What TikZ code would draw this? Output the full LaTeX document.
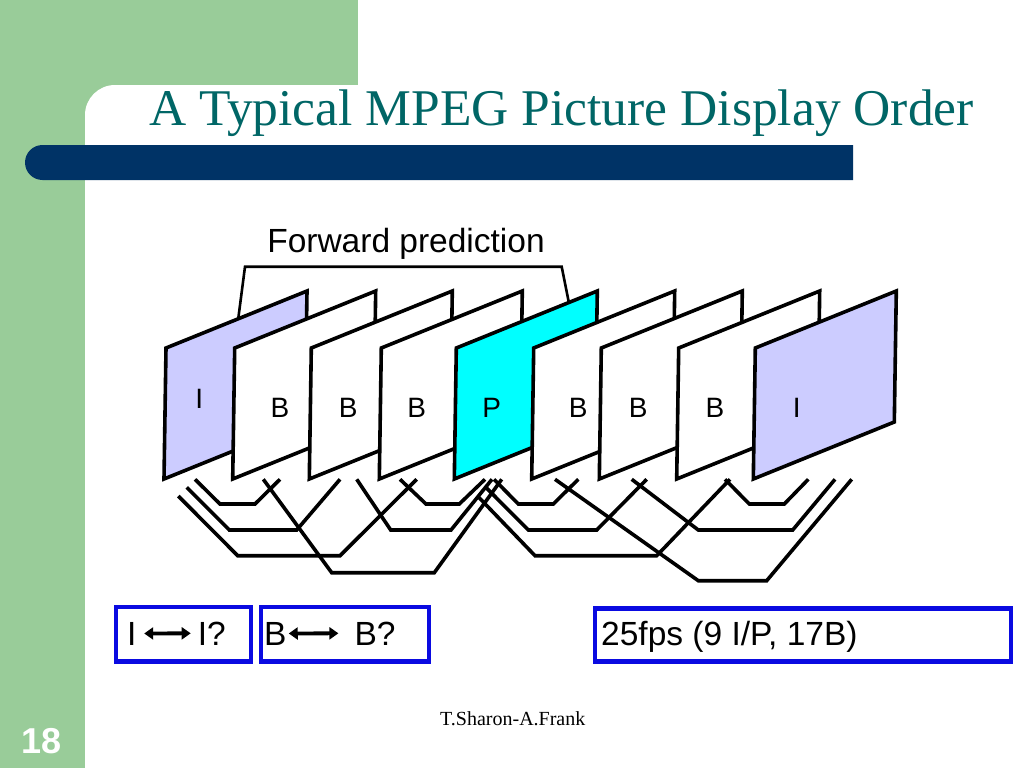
\documentclass[tikz,border=0pt]{standalone}
\usepackage{fontspec}
\setmainfont{Liberation Serif}
\setsansfont{Liberation Sans}
\usetikzlibrary{arrows.meta}
\definecolor{greenbg}{HTML}{99CC99}
\definecolor{barblue}{HTML}{003366}
\definecolor{titleteal}{HTML}{006666}
\definecolor{lavender}{HTML}{CCCCFF}
\definecolor{cyanfill}{HTML}{00FFFF}
\definecolor{boxblue}{RGB}{10,10,225}
\tikzset{
  framestyle/.style={draw=black, line width=3.6pt, line join=miter},
  conn/.style={draw=black, line width=3.6pt, line join=miter},
  bracketline/.style={draw=black, line width=2.6pt},
  flabel/.style={font=\sffamily\fontsize{28}{32}\selectfont, inner sep=0pt},
  boxtext/.style={font=\sffamily\fontsize{33.5}{36}\selectfont, inner sep=0pt, anchor=base west},
  bluebox/.style={draw=boxblue, line width=4.2pt, fill=white, inner sep=0pt},
  dblarrow/.style={line width=3.8pt, {Triangle[length=9pt,width=12pt]}-{Triangle[length=9pt,width=12pt]}}
}
\newcommand\pframe[2]{%
  \filldraw[framestyle, fill=#2] (#1,479) -- (#1+2,348) -- (#1+143,291) -- (#1+141,422) -- cycle;}
\begin{document}
\begin{tikzpicture}[x=1pt,y=-1pt]
\useasboundingbox (0,0) rectangle (1024,768);
% background
\fill[white] (0,0) rectangle (1024,768);
\fill[greenbg] (0,0) rectangle (358,120);
\fill[greenbg] (0,0) rectangle (120,768);
\fill[white, rounded corners=30pt] (85,85) rectangle (1100,900);
% bar
\fill[barblue] (853,145) -- (42.5,145) arc[start angle=270, end angle=90, radius=17.5] -- (853,180) -- cycle;
% title
\node[anchor=base west, inner sep=0pt, text=titleteal, font=\fontsize{51.5}{60}\selectfont] (title) at (149,125.5) {A Typical MPEG Picture Display Order};
% bracket
\node[anchor=base, inner sep=0pt, font=\sffamily\fontsize{33.5}{38}\selectfont] (fwd) at (406,252) {Forward prediction};
\coordinate (brL) at (238.3,318.3);
\coordinate (brR) at (570,308.3);
\draw[bracketline] (brL) -- (245,266.7) -- (561.7,266.7) -- (brR);
% frames
\pframe{164}{lavender}
\pframe{232.7}{white}
\pframe{309.3}{white}
\pframe{379.3}{white}
\pframe{454.3}{cyanfill}
\pframe{531.7}{white}
\pframe{599.3}{white}
\pframe{676.7}{white}
\pframe{753.3}{lavender}
% frame labels
\node[flabel] (lI1) at (199.3,399) {I};
\node[flabel] (lB1) at (280,408.3) {B};
\node[flabel] (lB2) at (348.3,408.3) {B};
\node[flabel] (lB3) at (416.7,408.3) {B};
\node[flabel] (lP) at (491.7,408.3) {P};
\node[flabel] (lB4) at (578.3,408.3) {B};
\node[flabel] (lB5) at (638.3,408.3) {B};
\node[flabel] (lB6) at (715,408.3) {B};
\node[flabel] (lI2) at (796.7,408.3) {I};
% prediction connectors
\draw[conn] (195,479.3) -- (220,504) -- (255,504) -- (280,479.3);
\draw[conn] (186.7,487.3) -- (229.3,530) -- (296.7,530) -- (340,479.3);
\draw[conn] (178.3,496) -- (237.7,555.7) -- (340,555.7) -- (416.7,479.3);
\draw[conn] (263.3,479.3) -- (331.7,572.7) -- (434.3,572.7) -- (501.7,479.3);
\draw[conn] (400,479.3) -- (426,504) -- (459.3,504) -- (485,479.3);
\draw[conn] (356.7,479.3) -- (390.7,530) -- (451,530) -- (492,479.3);
\draw[conn] (494,479.3) -- (518.3,504) -- (553.3,504) -- (578.3,479.3);
\draw[conn] (486,487.5) -- (528.3,530) -- (596.7,530) -- (646.7,479.3);
\draw[conn] (477.5,496) -- (535,555.7) -- (656.7,555.7) -- (730,479.3);
\draw[conn] (555,479.3) -- (698.3,580.7) -- (766.7,580.7) -- (851.7,479.3);
\draw[conn] (631.7,479.3) -- (698.3,530) -- (792.7,530) -- (835,479.3);
\draw[conn] (725,479.3) -- (749.3,504) -- (784.3,504) -- (808.3,479.3);
% boxes
\node[bluebox, minimum width=135.3pt, minimum height=54.5pt] (box1) at (183.7,634.2) {};
\node[bluebox, minimum width=167.4pt, minimum height=54.5pt] (box2) at (345,634.2) {};
\node[bluebox, minimum width=416.6pt, minimum height=53pt] (box3) at (803,635) {};
\node[boxtext] (tIa) at (127,645) {I};
\node[boxtext] (tIb) at (197.7,645) {I?};
\draw[dblarrow] ([xshift=7.5pt]tIa.east) -- ([xshift=-7pt]tIb.west);
\node[boxtext] (tBa) at (264,645) {B};
\node[boxtext] (tBb) at (354.4,645) {B?};
\draw[dblarrow] ([xshift=2pt]tBa.east) -- ([xshift=-16pt]tBb.west);
\node[boxtext] (tfps) at (601,645) {25fps (9 I/P, 17B)};
% footer
\node[anchor=base west, inner sep=0pt, font=\fontsize{20}{24}\selectfont] (footer) at (440,725) {T.Sharon-A.Frank};
\node[inner sep=0pt, text=white, font=\sffamily\bfseries\fontsize{36}{40}\selectfont] (pnum) at (42,741) {18};
\end{tikzpicture}
\end{document}
